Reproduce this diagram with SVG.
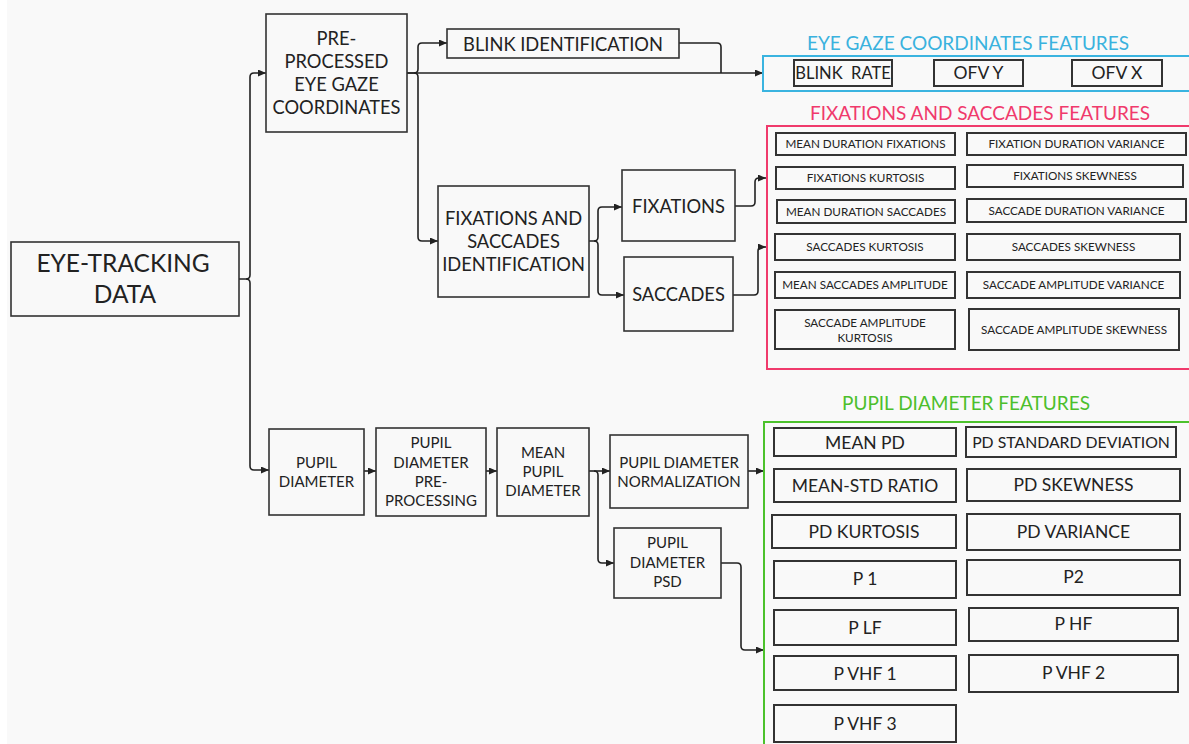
<svg xmlns="http://www.w3.org/2000/svg" width="1189" height="744" viewBox="0 0 1189 744">
<style>
text{font-family:Lato,"Liberation Sans",sans-serif;fill:#222;text-anchor:middle}
.box{fill:none;stroke:#333;stroke-width:1.6}
.fb{fill:none;stroke:#333;stroke-width:2}
.c{fill:none;stroke:#222;stroke-width:1.6}
.a{marker-end:url(#ah)}
.t23{font-size:24.5px}
.t18{font-size:18.3px}
.t15{font-size:15px}
.t12{font-size:11.7px}
.t17{font-size:17.5px}
.tt{font-size:19px}
</style>
<defs>
<marker id="ah" markerUnits="userSpaceOnUse" markerWidth="9" markerHeight="8" refX="8" refY="3.5" orient="auto">
<path d="M0,0 L8,3.5 L0,7 z" fill="#222"/>
</marker>
</defs>
<rect x="0" y="0" width="1189" height="744" fill="#ffffff"/>
<rect x="7" y="0" width="1182" height="744" fill="#f9f9f9"/>

<g id="connectors">
<path class="c a" d="M239,279 H246 Q250,279 250,275 V77 Q250,73 254,73 H266"/>
<path class="c a" d="M246,279 Q250,279 250,283 V466 Q250,470 254,470 H269"/>
<path class="c a" d="M407,73 H414 Q418,73 418,69 V47 Q418,43 422,43 H447"/>
<path class="c a" d="M414,73 Q418,73 418,77 V237 Q418,241 422,241 H438"/>
<path class="c a" d="M407,73 H763"/>
<path class="c" d="M679,43 H717 Q721,43 721,47 V73"/>
<path class="c a" d="M589,241 H594 Q598,241 598,237 V211 Q598,207 602,207 H622"/>
<path class="c a" d="M594,241 Q598,241 598,245 V291 Q598,295 602,295 H624"/>
<path class="c a" d="M735,206 H751 Q755,206 755,202 V182 Q755,178 759,178 H766"/>
<path class="c a" d="M733,295 H754 Q758,295 758,291 V251 Q758,247 762,247 H766"/>
<path class="c a" d="M364,471 H376"/>
<path class="c a" d="M486,471 H497"/>
<path class="c a" d="M589,471 H610"/>
<path class="c a" d="M594,471 Q598,471 598,475 V559 Q598,563 602,563 H614"/>
<path class="c a" d="M748,471 H764"/>
<path class="c a" d="M721,563 H737 Q741,563 741,567 V646 Q741,650 745,650 H764"/>
</g>

<g id="eye-tracking-data">
<rect class="box" x="11" y="242" width="228" height="74"/>
<text class="t23" x="123" y="272">EYE-TRACKING</text>
<text class="t23" x="125" y="303">DATA</text>
</g>
<g id="preprocessed">
<rect class="box" x="266" y="14" width="141" height="118"/>
<text class="t18" x="336.5" y="45">PRE-</text>
<text class="t18" x="336.5" y="68">PROCESSED</text>
<text class="t18" x="336.5" y="91">EYE GAZE</text>
<text class="t18" x="336.5" y="114">COORDINATES</text>
</g>
<g id="blink-identification">
<rect class="box" x="447" y="29" width="232" height="29"/>
<text class="t18" x="563" y="51">BLINK IDENTIFICATION</text>
</g>
<g id="fs-identification">
<rect class="box" x="438" y="186" width="151" height="111"/>
<text class="t18" x="513.5" y="225">FIXATIONS AND</text>
<text class="t18" x="513.5" y="248">SACCADES</text>
<text class="t18" x="513.5" y="271">IDENTIFICATION</text>
</g>
<g id="fixations">
<rect class="box" x="622" y="170" width="113" height="71"/>
<text class="t18" x="678.5" y="213">FIXATIONS</text>
</g>
<g id="saccades">
<rect class="box" x="624" y="257" width="109" height="74"/>
<text class="t18" x="678.5" y="301">SACCADES</text>
</g>
<g id="pupil-diameter">
<rect class="box" x="269" y="429" width="95" height="86"/>
<text class="t15" x="316.5" y="468">PUPIL</text>
<text class="t15" x="316.5" y="487">DIAMETER</text>
</g>
<g id="pd-preprocessing">
<rect class="box" x="376" y="428" width="110" height="88"/>
<text class="t15" x="431" y="448">PUPIL</text>
<text class="t15" x="431" y="468">DIAMETER</text>
<text class="t15" x="431" y="487">PRE-</text>
<text class="t15" x="431" y="506">PROCESSING</text>
</g>
<g id="mean-pupil-diameter">
<rect class="box" x="497" y="428" width="92" height="88"/>
<text class="t15" x="543" y="458">MEAN</text>
<text class="t15" x="543" y="477">PUPIL</text>
<text class="t15" x="543" y="496">DIAMETER</text>
</g>
<g id="pd-normalization">
<rect class="box" x="610" y="435" width="138" height="73"/>
<text class="t15" x="679" y="468">PUPIL DIAMETER</text>
<text class="t15" x="679" y="487">NORMALIZATION</text>
</g>
<g id="pd-psd">
<rect class="box" x="614" y="528" width="107" height="70"/>
<text class="t15" x="667.5" y="548">PUPIL</text>
<text class="t15" x="667.5" y="568">DIAMETER</text>
<text class="t15" x="667.5" y="587">PSD</text>
</g>

<g id="eye-gaze-features">
<text class="tt" x="968" y="50" style="fill:#3ab2de">EYE GAZE COORDINATES FEATURES</text>
<rect x="763" y="56" width="440" height="35" fill="none" stroke="#3ab4e0" stroke-width="2"/>
<g id="blink-rate"><rect class="fb" x="794" y="60" width="98" height="26"/><text class="t17" x="843" y="79" style="white-space:pre;font-size:16.5px">BLINK  RATE</text></g>
<g id="ofv-y"><rect class="fb" x="934" y="60" width="89" height="26"/><text class="t17" x="978.5" y="79">OFV Y</text></g>
<g id="ofv-x"><rect class="fb" x="1072" y="60" width="90" height="26"/><text class="t17" x="1117" y="79">OFV X</text></g>
</g>

<g id="fs-features">
<text class="tt" x="980" y="120" style="fill:#f03a6c">FIXATIONS AND SACCADES FEATURES</text>
<rect x="767" y="126" width="440" height="243" fill="none" stroke="#f03a6c" stroke-width="2"/>
<g id="f1"><rect class="fb" x="776" y="133" width="179" height="22"/><text class="t12" x="865.5" y="148">MEAN DURATION FIXATIONS</text></g>
<g id="f2"><rect class="fb" x="967" y="133" width="219" height="22"/><text class="t12" x="1076.5" y="148">FIXATION DURATION VARIANCE</text></g>
<g id="f3"><rect class="fb" x="776" y="167" width="179" height="22"/><text class="t12" x="865.5" y="182">FIXATIONS KURTOSIS</text></g>
<g id="f4"><rect class="fb" x="967" y="165" width="216" height="22"/><text class="t12" x="1075" y="180">FIXATIONS SKEWNESS</text></g>
<g id="f5"><rect class="fb" x="777" y="200" width="178" height="23"/><text class="t12" x="866" y="216">MEAN DURATION SACCADES</text></g>
<g id="f6"><rect class="fb" x="967" y="199" width="219" height="23"/><text class="t12" x="1076.5" y="215">SACCADE DURATION VARIANCE</text></g>
<g id="f7"><rect class="fb" x="775" y="234" width="180" height="26"/><text class="t12" x="865" y="251">SACCADES KURTOSIS</text></g>
<g id="f8"><rect class="fb" x="967" y="234" width="213" height="26"/><text class="t12" x="1073.5" y="251">SACCADES SKEWNESS</text></g>
<g id="f9"><rect class="fb" x="775" y="272" width="180" height="26"/><text class="t12" x="865" y="289">MEAN SACCADES AMPLITUDE</text></g>
<g id="f10"><rect class="fb" x="967" y="272" width="213" height="26"/><text class="t12" x="1073.5" y="289">SACCADE AMPLITUDE VARIANCE</text></g>
<g id="f11"><rect class="fb" x="775" y="310" width="180" height="39"/><text class="t12" x="865" y="327">SACCADE AMPLITUDE</text><text class="t12" x="865" y="342">KURTOSIS</text></g>
<g id="f12"><rect class="fb" x="969" y="309" width="210" height="41"/><text class="t12" x="1074" y="334">SACCADE AMPLITUDE SKEWNESS</text></g>
</g>

<g id="pd-features">
<text class="tt" x="966" y="410" style="fill:#4cbf2c">PUPIL DIAMETER FEATURES</text>
<rect x="764" y="422" width="440" height="340" fill="none" stroke="#4cc22c" stroke-width="2"/>
<g id="p1"><rect class="fb" x="774" y="428" width="182" height="28"/><text class="t17" x="865" y="449">MEAN PD</text></g>
<g id="p2"><rect class="fb" x="966" y="427" width="210" height="30"/><text class="t17" x="1071" y="448" style="font-size:15.8px">PD STANDARD DEVIATION</text></g>
<g id="p3"><rect class="fb" x="774" y="469" width="182" height="33"/><text class="t17" x="865" y="492">MEAN-STD RATIO</text></g>
<g id="p4"><rect class="fb" x="967" y="469" width="213" height="32"/><text class="t17" x="1073.5" y="491">PD SKEWNESS</text></g>
<g id="p5"><rect class="fb" x="772" y="515" width="184" height="33"/><text class="t17" x="864" y="538">PD KURTOSIS</text></g>
<g id="p6"><rect class="fb" x="967" y="514" width="213" height="36"/><text class="t17" x="1073.5" y="538">PD VARIANCE</text></g>
<g id="p7"><rect class="fb" x="774" y="561" width="182" height="37"/><text class="t17" x="865" y="585">P 1</text></g>
<g id="p8"><rect class="fb" x="967" y="560" width="213" height="35"/><text class="t17" x="1073.5" y="583">P2</text></g>
<g id="p9"><rect class="fb" x="774" y="610" width="182" height="35"/><text class="t17" x="865" y="634">P LF</text></g>
<g id="p10"><rect class="fb" x="969" y="608" width="209" height="33"/><text class="t17" x="1073.5" y="630">P HF</text></g>
<g id="p11"><rect class="fb" x="774" y="656" width="182" height="34"/><text class="t17" x="865" y="680">P VHF 1</text></g>
<g id="p12"><rect class="fb" x="969" y="655" width="209" height="37"/><text class="t17" x="1073.5" y="679">P VHF 2</text></g>
<g id="p13"><rect class="fb" x="774" y="705" width="182" height="37"/><text class="t17" x="865" y="730">P VHF 3</text></g>
</g>
</svg>
